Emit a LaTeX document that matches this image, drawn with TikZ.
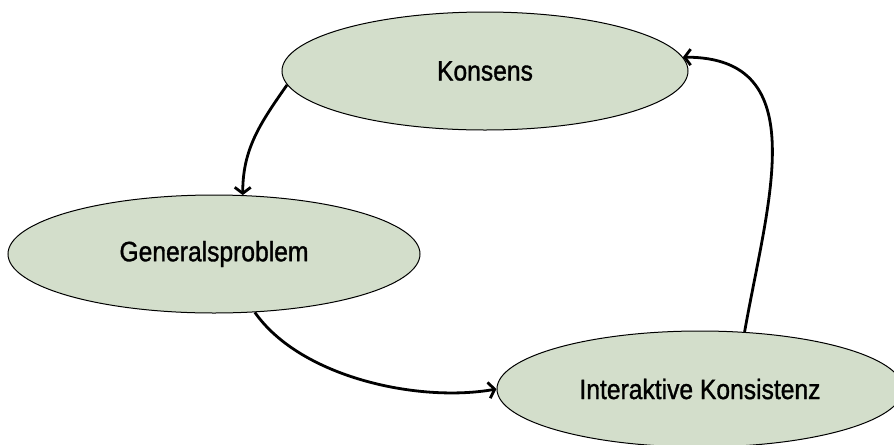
\documentclass[tikz,border=0pt]{standalone}
\usepackage{fontspec}
\setmainfont{Liberation Sans}[FakeStretch=0.88,FakeBold=1.2]
\usetikzlibrary{shapes.geometric,arrows.meta}
\definecolor{ellfill}{RGB}{211,222,203}
\tikzset{
  ell/.style={ellipse, draw=black, line width=0.75pt, fill=ellfill, inner sep=0pt,
              font=\fontsize{21}{25}\selectfont},
  conn/.style={line width=2.1pt, -{Straight Barb[length=4.5pt,width=12pt,line width=2.1pt]}}
}
\begin{document}
\begin{tikzpicture}[x=0.75pt,y=-0.75pt]
\useasboundingbox (0,0) rectangle (894,444);
\clip (0,0) rectangle (894,444);
\node[ell, minimum width=304.5pt, minimum height=88.5pt] (k) at (485,71) {Konsens};
\node[ell, minimum width=309pt, minimum height=88.5pt] (g) at (214,254) {Generalsproblem};
\node[ell, minimum width=304.5pt, minimum height=87pt] (i) at (700,389) {Interaktive Konsistenz};
\draw[conn] (k.184) to[out=235,in=90] (g.64);
\draw[conn] (g.-55) to[out=-55,in=190,looseness=0.8] (i.west);
\draw[conn] (i.52) to[out=80,in=0,looseness=1.2] (k.4);
\end{tikzpicture}
\end{document}
